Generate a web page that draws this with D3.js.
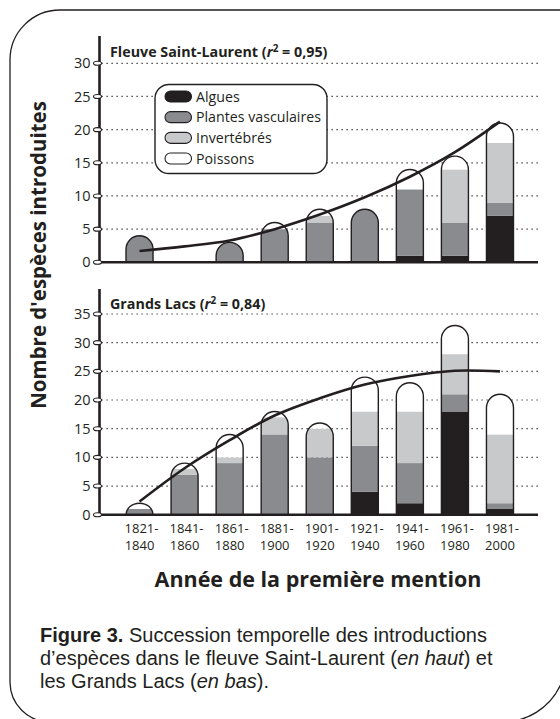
<!DOCTYPE html>
<html>
<head>
<meta charset="utf-8">
<script src="https://cdn.jsdelivr.net/npm/d3@7"></script>
<style>
  html, body { margin: 0; padding: 0; background: #fff; overflow: hidden; }
  svg { display: block; }
  text { font-family: "Open Sans", "Noto Sans", sans-serif; fill: #231f20; }
</style>
</head>
<body>
<svg id="chart" width="560" height="719"></svg>
<script>
// ---------- DATA ----------
const categories = ["1821-1840","1841-1860","1861-1880","1881-1900","1901-1920","1921-1940","1941-1960","1961-1980","1981-2000"];
const seriesNames = ["Algues","Plantes vasculaires","Invertébrés","Poissons"];

// Fleuve Saint-Laurent
const slAlgues   = [0,0,0,0,0,0,1,1,7];
const slPlantes  = [4,0,3,5,6,8,10,5,2];
const slInvert   = [0,0,0,0,1,0,0,8,9];
const slPoissons = [0,0,0,1,1,0,3,2,3];
const slTrend    = [1.7,2.4,3.3,5.0,7.2,9.8,12.9,16.6,21.2];
const slTicks    = [0,5,10,15,20,25,30];

// Grands Lacs
const glAlgues   = [0,0,0,0,0,4,2,18,1];
const glPlantes  = [1,7,9,14,10,8,7,3,1];
const glInvert   = [0,1,1,3,5,6,9,7,12];
const glPoissons = [1,1,4,1,1,6,5,5,7];
const glTrend    = [2.3,8.1,13.0,17.3,20.3,22.7,24.2,25.1,25.0];
const glTicks    = [0,5,10,15,20,25,30,35];

const colors = ["#231f20","#8a8b8e","#c8c9cb","#ffffff"];

// ---------- LAYOUT ----------
const svg = d3.select("#chart");
const INK = "#231f20";
const axisX = 99.5, axisRight = 538;

// frame (open on the right, as in the cropped original)
svg.append("path")
  .attr("d", "M560.5,685 A64,64 0 0 1 502,722 L50,722 A40,40 0 0 1 10,682 L10,60 A50,50 0 0 1 60,10 L561,10")
  .attr("fill", "none").attr("stroke", INK).attr("stroke-width", 1.3);

const x = d3.scaleBand().domain(categories).range([117, 522.5]).paddingInner(0.4).paddingOuter(0.2);

let clipId = 0;
function barShape(x0, w, yTop, yBase) {
  const r = w / 2, h = yBase - yTop;
  if (h >= r) {
    return `M${x0},${yBase} L${x0},${yTop + r} A${r},${r} 0 0 1 ${x0 + w},${yTop + r} L${x0 + w},${yBase} Z`;
  }
  return `M${x0},${yBase} A${r},${h} 0 0 1 ${x0 + w},${yBase} Z`;
}

function panel(cfg) {
  const y = d3.scaleLinear().domain([0, cfg.max]).range([cfg.y0, cfg.y1]);
  const g = svg.append("g");

  // dotted gridlines
  g.selectAll("line.grid").data(cfg.ticks.filter(t => t > 0)).join("line")
    .attr("x1", axisX + 2).attr("x2", axisRight)
    .attr("y1", d => y(d)).attr("y2", d => y(d))
    .attr("stroke", INK).attr("stroke-width", 1.2).attr("stroke-dasharray", "1.2,3.8");

  // stacked bars
  const stack = d3.stack().keys([0,1,2,3]).value((d, k) => d[k]);
  const rows = categories.map((c, i) => cfg.series.map(s => s[i]));
  const stacked = stack(rows);
  const w = x.bandwidth();
  categories.forEach((c, i) => {
    const total = d3.sum(cfg.series, s => s[i]);
    if (total <= 0) return;
    const x0 = x(c);
    const path = barShape(x0, w, y(total), y(0));
    const id = "clip" + (clipId++);
    svg.append("clipPath").attr("id", id).append("path").attr("d", path);
    const bg = g.append("g").attr("clip-path", `url(#${id})`);
    stacked.forEach((layer, k) => {
      const seg = layer[i];
      if (seg[1] - seg[0] <= 0) return;
      const top = (seg[1] >= total) ? cfg.max + 5 : seg[1];
      bg.append("rect").attr("x", x0 - 1).attr("width", w + 2)
        .attr("y", y(top)).attr("height", y(seg[0]) - y(top))
        .attr("fill", colors[k]);
    });
    g.append("path").attr("d", path).attr("fill", "none")
      .attr("stroke", INK).attr("stroke-width", 1.4);
  });

  // trend line
  const line = d3.line().x((d, i) => x(categories[i]) + w / 2).y(d => y(d)).curve(d3.curveCatmullRom.alpha(0.5));
  g.append("path").datum(cfg.trend).attr("d", line)
    .attr("fill", "none").attr("stroke", INK).attr("stroke-width", 2.6);

  // y axis
  const ax = g.append("g").attr("transform", `translate(${axisX},0)`)
    .call(d3.axisLeft(y).tickValues(cfg.ticks).tickSize(0).tickPadding(9));
  ax.select(".domain").remove();
  ax.selectAll("text").style("font-family", '"Open Sans", sans-serif').style("font-size", "14.5px").attr("fill", INK);
  g.append("line").attr("x1", axisX).attr("x2", axisX).attr("y1", cfg.axisTop).attr("y2", cfg.y0 + 1)
    .attr("stroke", INK).attr("stroke-width", 2.6);
  g.append("line").attr("x1", axisX - 1).attr("x2", axisRight).attr("y1", cfg.y0).attr("y2", cfg.y0)
    .attr("stroke", INK).attr("stroke-width", 2.6);
  g.selectAll("ellipse.tick").data(cfg.ticks).join("ellipse")
    .attr("cx", 97.5).attr("cy", d => y(d)).attr("rx", 4).attr("ry", 2)
    .attr("fill", "#fff").attr("stroke", INK).attr("stroke-width", 1.1);

  // title
  const t = g.append("text").attr("x", 110).attr("y", cfg.titleY)
    .style("font-size", "14.3px").style("font-weight", "bold");
  t.append("tspan").text(cfg.title + " (");
  t.append("tspan").style("font-style", "italic").text("r");
  t.append("tspan").attr("dy", -5).style("font-size", "10px").text("2");
  t.append("tspan").attr("dy", 5).text(" = " + cfg.r2 + ")");
  return y;
}

panel({ max: 30, y0: 262.3, y1: 63.3, axisTop: 36, ticks: slTicks, trend: slTrend,
        series: [slAlgues, slPlantes, slInvert, slPoissons],
        title: "Fleuve Saint-Laurent", r2: "0,95", titleY: 57 });
panel({ max: 35, y0: 514.7, y1: 314, axisTop: 289, ticks: glTicks, trend: glTrend,
        series: [glAlgues, glPlantes, glInvert, glPoissons],
        title: "Grands Lacs", r2: "0,84", titleY: 309 });

// legend
const lg = svg.append("g");
lg.append("rect").attr("x", 155).attr("y", 84.5).attr("width", 172).attr("height", 89)
  .attr("rx", 14).attr("fill", "#fff").attr("stroke", INK).attr("stroke-width", 1.4);
const legY = d3.scalePoint().domain(seriesNames).range([96.5, 158.5]);
seriesNames.forEach((s, k) => {
  lg.append("rect").attr("x", 165).attr("y", legY(s) - 5.5).attr("width", 26.5).attr("height", 11)
    .attr("rx", 5.5).attr("fill", colors[k]).attr("stroke", INK).attr("stroke-width", 1.1);
  lg.append("text").attr("x", 196).attr("y", legY(s) + 5).style("font-size", "14.2px").text(s);
});

// x labels (two lines each)
const xl = svg.append("g").style("font-size", "13px");
categories.forEach(c => {
  const [a, b] = c.split("-");
  const cx = x(c) + x.bandwidth() / 2;
  xl.append("text").attr("text-anchor", "middle").attr("x", cx + 2).attr("y", 533).text(a + "-");
  xl.append("text").attr("text-anchor", "middle").attr("x", cx).attr("y", 550).text(b);
});

// axis titles
svg.append("text").attr("x", 318).attr("y", 587).attr("text-anchor", "middle")
  .style("font-size", "21.5px").style("font-weight", "bold").text("Année de la première mention");
svg.append("text").attr("transform", "translate(46,255) rotate(-90)").attr("text-anchor", "middle")
  .style("font-size", "20.5px").style("font-weight", "bold").text("Nombre d'espèces introduites");

// caption
const cap = svg.append("g").style("font-size", "20px").style("font-family", '"Liberation Sans", Arial, sans-serif');
const capText = (yy) => cap.append("text").attr("x", 40).attr("y", yy).style("font-family", '"Liberation Sans", Arial, sans-serif');
const l1 = capText(642);
l1.append("tspan").style("font-weight", "bold").text("Figure 3.");
l1.append("tspan").text(" Succession temporelle des introductions");
const l2 = capText(665);
l2.append("tspan").text("d\u2019espèces dans le fleuve Saint-Laurent (");
l2.append("tspan").style("font-style", "italic").text("en haut");
l2.append("tspan").text(") et");
const l3 = capText(688);
l3.append("tspan").text("les Grands Lacs (");
l3.append("tspan").style("font-style", "italic").text("en bas");
l3.append("tspan").text(").");
</script>
</body>
</html>
